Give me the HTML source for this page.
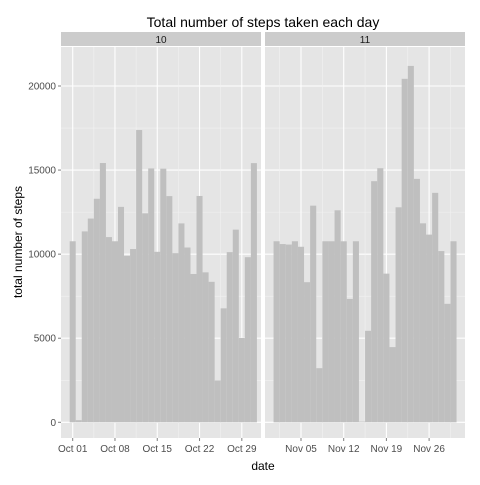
<!DOCTYPE html>
<html><head><meta charset="utf-8"><style>
body{margin:0;background:#fff}
svg text{font-family:"Liberation Sans",sans-serif}
</style></head><body>
<svg id="c" width="480" height="480" xmlns="http://www.w3.org/2000/svg"></svg>
<script>
const octSteps=[10766,126,11352,12116,13294,15420,11015,10766,12811,9900,10304,17382,12426,15098,10139,15084,13452,10056,11829,10395,8821,13460,8918,8355,2492,6778,10119,11458,5018,9819,15414];
const novSteps=[10766,10600,10571,10766,10439,8334,12883,3219,10766,10766,12608,10765,7336,10766,41,5441,14339,15110,8841,4472,12787,20427,21194,14478,11834,11162,13646,10183,7047,10766];
const yTicks=[0,5000,10000,15000,20000];
const octTickDays=[1,8,15,22,29];
const octTickLabels=["Oct 01","Oct 08","Oct 15","Oct 22","Oct 29"];
const novTickDays=[5,12,19,26];
const novTickLabels=["Nov 05","Nov 12","Nov 19","Nov 26"];
const NS="http://www.w3.org/2000/svg";
const svg=document.getElementById('c');
function mk(t,a,p){const e=document.createElementNS(NS,t);for(const k in a)e.setAttribute(k,a[k]);(p||svg).appendChild(e);return e;}
const pTop=47,pBot=438;
const y=v=>422.3-v*(336.3/20000);
const panels=[
 {x0:61,x1:261,d0:1,px:6.04,ref:72.7,data:octSteps,td:octTickDays,tl:octTickLabels,strip:"10",name:"october"},
 {x0:265,x1:465,d0:1,px:6.1,ref:276.6,data:novSteps,td:novTickDays,tl:novTickLabels,strip:"11",name:"november"}
];
const t=mk('text',{x:263,y:27,'text-anchor':'middle','font-size':14,fill:'#000'});


t.textContent='Total number of steps taken each day';
panels.forEach(p=>{
 const x=d=>p.ref+(d-p.d0)*p.px;
 const g=mk('g',{});
 
 
 mk('rect',{x:p.x0,y:32,width:p.x1-p.x0,height:14,fill:'#cccccc'},g);
 const st=mk('text',{x:(p.x0+p.x1)/2,y:43,'text-anchor':'middle','font-size':10,fill:'#1a1a1a'},g);
 
 
 st.textContent=p.strip;
 mk('rect',{x:p.x0,y:pTop,width:p.x1-p.x0,height:pBot-pTop,fill:'#e5e5e5'},g);
 for(let i=0;i<yTicks.length;i++){
  mk('line',{x1:p.x0,x2:p.x1,y1:y(yTicks[i]),y2:y(yTicks[i]),stroke:'#fff','stroke-width':1.1},g);
  if(i<yTicks.length-1){const m=(yTicks[i]+yTicks[i+1])/2;mk('line',{x1:p.x0,x2:p.x1,y1:y(m),y2:y(m),stroke:'#f2f2f2','stroke-width':0.6},g);}
 }
 p.td.forEach((d,i)=>{
  mk('line',{x1:x(d),x2:x(d),y1:pTop,y2:pBot,stroke:'#fff','stroke-width':1.1},g);
  const m=d-3.5; if(x(m)>p.x0) mk('line',{x1:x(m),x2:x(m),y1:pTop,y2:pBot,stroke:'#f2f2f2','stroke-width':0.6},g);
  if(i==p.td.length-1){const m2=d+3.5;if(x(m2)<p.x1)mk('line',{x1:x(m2),x2:x(m2),y1:pTop,y2:pBot,stroke:'#f2f2f2','stroke-width':0.6},g);}
  mk('line',{x1:x(d),x2:x(d),y1:pBot,y2:pBot+3,stroke:'#7f7f7f'},g);
  const tl=mk('text',{x:x(d),y:452,'text-anchor':'middle','font-size':10,fill:'#4d4d4d'},g);
  
  
  tl.textContent=p.tl[i];
 });
 p.data.forEach((v,i)=>{
  const d=p.d0+i;
  const b=mk('rect',{x:x(d)-p.px/2,y:y(v),width:p.px,height:y(0)-y(v),fill:'#bfbfbf'},g);
  
  
 });
});
yTicks.forEach(v=>{
 mk('line',{x1:58,x2:61,y1:y(v),y2:y(v),stroke:'#7f7f7f'});
 const l=mk('text',{x:56,y:y(v)+3.5,'text-anchor':'end','font-size':10,fill:'#4d4d4d'});
 
 
 l.textContent=v;
});
const xt=mk('text',{x:263,y:470,'text-anchor':'middle','font-size':12,fill:'#000'});


xt.textContent='date';
const yt=mk('text',{x:22,y:242,'text-anchor':'middle','font-size':12,fill:'#000',transform:'rotate(-90 22 242)'});


yt.textContent='total number of steps';
</script>
</body></html>
